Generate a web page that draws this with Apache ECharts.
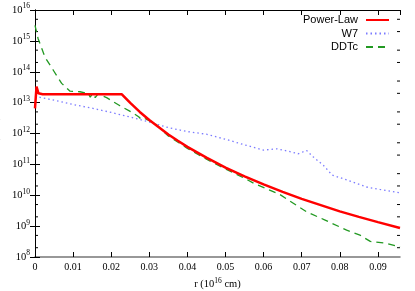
<!DOCTYPE html>
<html><head><meta charset="utf-8">
<script src="https://cdn.jsdelivr.net/npm/echarts@6/dist/echarts.min.js"></script>
<style>html,body{margin:0;padding:0;background:#fff}#c{width:415px;height:291px}</style>
</head><body><div id="c"></div>
<script>
// ---- data ----
const powerLawR = [0, 0.0004, 0.0009, 0.002, 0.0228, 0.025, 0.0275, 0.030, 0.0325, 0.035, 0.0375, 0.040, 0.045, 0.050, 0.055, 0.060, 0.065, 0.070, 0.075, 0.080, 0.085, 0.090, 0.0958];
const powerLawN = [6.5e12, 3.3e13, 2.0e13, 1.86e13, 1.86e13, 9.8e12, 5.0e12, 2.75e12, 1.6e12, 9.3e11, 5.8e11, 3.7e11, 1.66e11, 7.9e10, 4.1e10, 2.24e10, 1.29e10, 7.6e9, 4.8e9, 3.0e9, 2.0e9, 1.35e9, 8.7e8];

const w7R = [0, 0.005, 0.010, 0.015, 0.020, 0.025, 0.030, 0.035, 0.040, 0.045, 0.050, 0.055, 0.060, 0.0635, 0.0675, 0.069, 0.0713, 0.073, 0.0757, 0.078, 0.082, 0.087, 0.0905, 0.0958];
const w7N = [1.6e13, 1.2e13, 8.7e12, 6.6e12, 4.8e12, 3.4e12, 2.35e12, 1.55e12, 1.15e12, 9.5e11, 6.5e11, 4.3e11, 2.9e11, 3.2e11, 2.5e11, 2.2e11, 2.8e11, 1.75e11, 9.3e10, 4.5e10, 3.1e10, 1.85e10, 1.55e10, 1.2e10];

const ddtcR = [0, 0.0008, 0.0026, 0.0048, 0.007, 0.0092, 0.0118, 0.014, 0.0145, 0.0152, 0.0158, 0.0165, 0.0188, 0.0223, 0.0255, 0.0272, 0.0278, 0.0285, 0.0315, 0.035, 0.040, 0.045, 0.050, 0.055, 0.0575, 0.0643, 0.0713, 0.076, 0.0818, 0.0853, 0.088, 0.0924, 0.0958];
const ddtcN = [3.2e15, 1.2e15, 3.0e14, 1.12e14, 4.2e13, 2.35e13, 2.25e13, 1.95e13, 1.5e13, 2.1e13, 1.45e13, 1.9e13, 1.45e13, 7.9e12, 4.8e12, 3.5e12, 2.95e12, 3.2e12, 2.1e12, 8.3e11, 3.3e11, 1.48e11, 7.1e10, 3.55e10, 2.4e10, 1.05e10, 2.9e9, 1.6e9, 7.4e8, 5.1e8, 3.2e8, 2.75e8, 2.1e8];

const xTickLabels = ['0', '0.01', '0.02', '0.03', '0.04', '0.05', '0.06', '0.07', '0.08', '0.09'];
const yDecades = [8, 9, 10, 11, 12, 13, 14, 15, 16];
const minorMultipliers = [2, 5];

const X_MIN = 0, X_MAX = 0.0958;
const serif = 'Liberation Serif';
const sans = 'Liberation Sans';

const zip = (a, b) => a.map((v, i) => [v, b[i]]);
const minorTickValues = [];
yDecades.slice(0, -1).forEach(d => minorMultipliers.forEach(m => minorTickValues.push(m * Math.pow(10, d))));

const chart = echarts.init(document.getElementById('c'), null, {renderer: 'canvas'});

const supRich = {
  b: {fontSize: 10.5, fontFamily: serif, color: '#000'},
  s: {fontSize: 7.5, fontFamily: serif, color: '#000', verticalAlign: 'bottom', padding: [0, 0, 7, 0]}
};

const yLabelFmt = v => '{b|10}{s|' + Math.round(Math.log10(v)) + '}';
const xLabelFmt = v => {
  const i = Math.round(v / 0.01);
  return Math.abs(v - i * 0.01) < 1e-9 ? (xTickLabels[i] || '') : '';
};

chart.setOption({
  animation: false,
  grid: {left: 35, right: 15, top: 10, bottom: 34, containLabel: false, outerBoundsMode: 'none'},
  legend: {
    orient: 'vertical', right: 25, top: 14, align: 'right', padding: 0,
    itemWidth: 23, itemHeight: 8, itemGap: 1.5,
    itemStyle: {opacity: 0},
    textStyle: {fontFamily: sans, fontSize: 11, color: '#000', padding: [0, 3, 0, 0], lineHeight: 12},
    data: ['Power-Law', 'W7', 'DDTc']
  },
  xAxis: [{
    type: 'value', min: X_MIN, max: X_MAX, interval: 0.01, position: 'bottom',
    axisLine: {lineStyle: {color: '#777', width: 1.5}},
    axisTick: {inside: true, length: 5, lineStyle: {color: '#000'}},
    axisLabel: {formatter: xLabelFmt, showMaxLabel: false, fontFamily: serif, fontSize: 10, color: '#000', margin: 5},
    splitLine: {show: false},
    name: '{b|r (10}{s|16}{b| cm)}', nameLocation: 'middle', nameGap: 19,
    nameTextStyle: {rich: supRich}
  }, {
    type: 'value', min: X_MIN, max: X_MAX, interval: 0.01, position: 'top',
    axisLine: {lineStyle: {color: '#000', width: 1}},
    axisTick: {inside: true, length: 5, lineStyle: {color: '#000'}},
    axisLabel: {show: false}, splitLine: {show: false}
  }],
  yAxis: [{
    type: 'log', logBase: 10, min: 1e8, max: 1e16, interval: 1, position: 'left',
    axisLine: {show: true, lineStyle: {color: '#000', width: 1}},
    axisTick: {show: true, inside: true, length: 5, lineStyle: {color: '#000'}},
    axisLabel: {formatter: yLabelFmt, rich: supRich, margin: 5},
    splitLine: {show: false},
    name: '{b|n (cm}{s|-3}{b|)}', nameLocation: 'middle', nameGap: 25, nameRotate: 90,
    nameTextStyle: {rich: supRich}
  }, {
    type: 'log', logBase: 10, min: 1e8, max: 1e16, interval: 1, position: 'right',
    axisLine: {show: true, lineStyle: {color: '#000', width: 1}},
    axisTick: {show: true, inside: true, length: 5, lineStyle: {color: '#000'}},
    axisLabel: {show: false}, splitLine: {show: false}
  }],
  series: [{
    name: 'Power-Law', type: 'line', data: zip(powerLawR, powerLawN),
    showSymbol: false, symbol: 'none', smooth: false,
    lineStyle: {color: '#ff0000', width: 2.5}, itemStyle: {color: '#ff0000'}, z: 5
  }, {
    name: 'W7', type: 'line', data: zip(w7R, w7N),
    showSymbol: false, symbol: 'none',
    lineStyle: {color: '#7b7bff', width: 1.3, type: [1.5, 3]}, itemStyle: {color: '#7b7bff'}, z: 3
  }, {
    name: 'DDTc', type: 'line', data: zip(ddtcR, ddtcN),
    showSymbol: false, symbol: 'none',
    lineStyle: {color: '#229922', width: 1.3, type: [7, 5]}, itemStyle: {color: '#229922'}, z: 4
  }, {
    name: 'minorTicks', type: 'custom', silent: true,
    data: minorTickValues.map(v => [X_MIN, v]),
    renderItem: (params, api) => {
      const v = api.value(1);
      const l = api.coord([X_MIN, v]);
      const r = api.coord([X_MAX, v]);
      return {type: 'group', children: [
        {type: 'line', shape: {x1: l[0], y1: l[1], x2: l[0] + 3, y2: l[1]}, style: {stroke: '#000', lineWidth: 1}},
        {type: 'line', shape: {x1: r[0], y1: r[1], x2: r[0] - 3, y2: r[1]}, style: {stroke: '#000', lineWidth: 1}}
      ]};
    }
  }]
});
</script></body></html>
